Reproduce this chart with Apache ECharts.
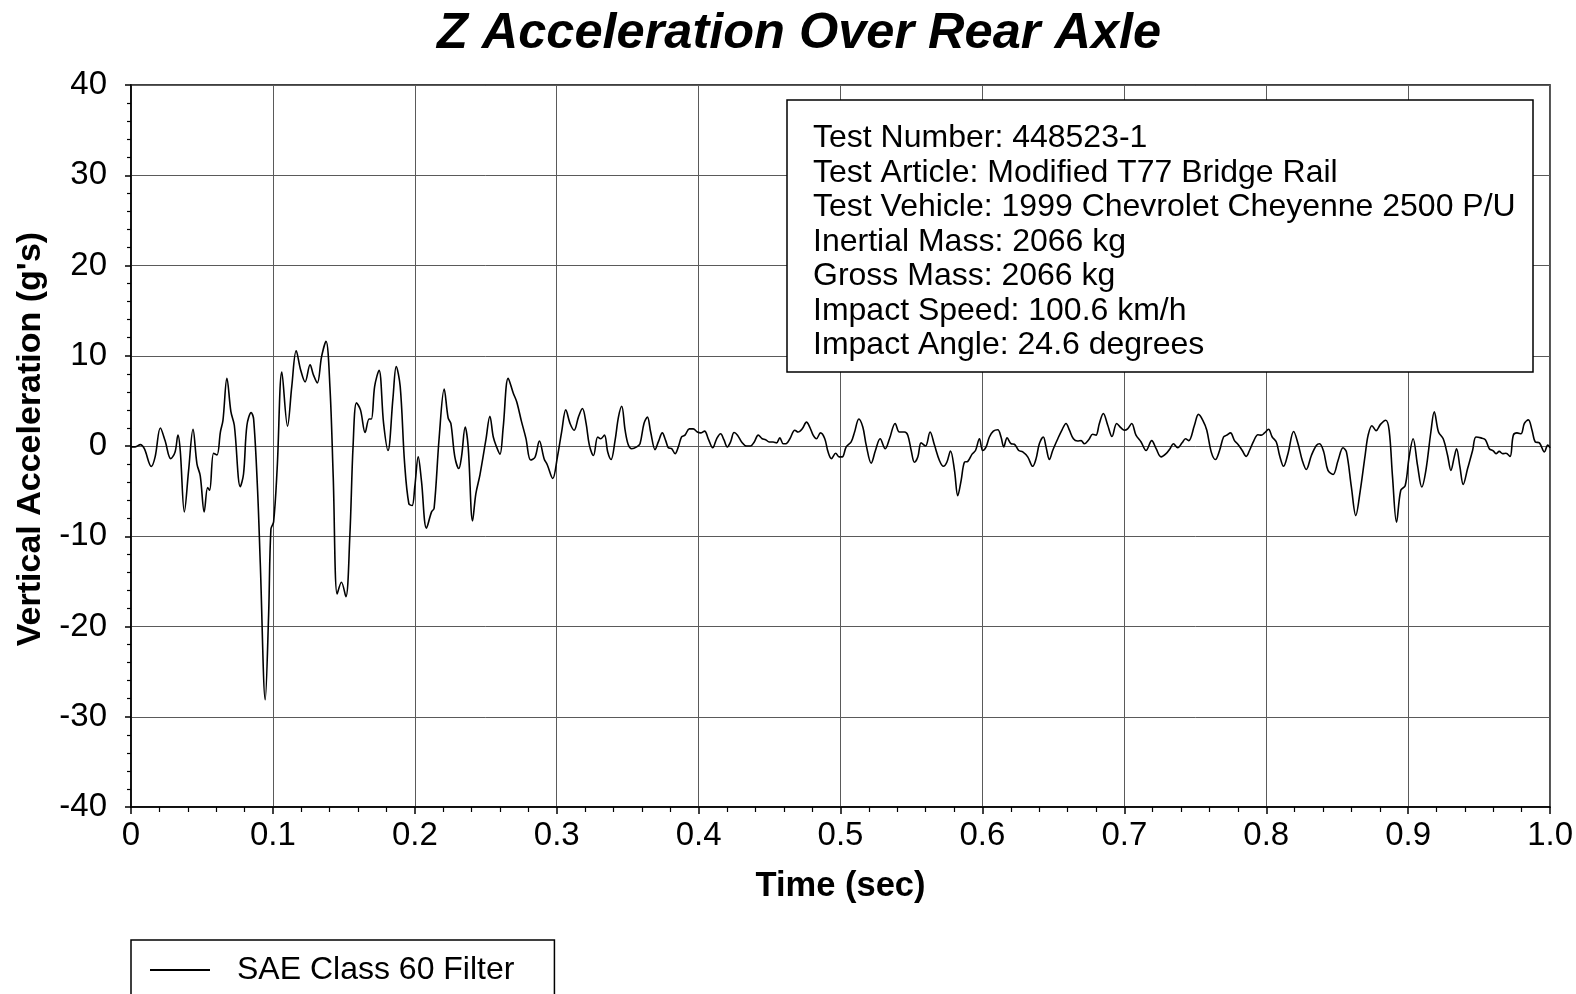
<!DOCTYPE html>
<html>
<head>
<meta charset="utf-8">
<script src="https://cdn.jsdelivr.net/npm/echarts@6/dist/echarts.min.js"></script>
<style>
html,body{margin:0;padding:0;background:#fff;}
#chart{width:1576px;height:994px;}
</style>
</head>
<body>
<div id="chart"></div>
<script>
const titleText = 'Z Acceleration Over Rear Axle';
const xAxisName = 'Time (sec)';
const yAxisName = "Vertical Acceleration (g's)";
const seriesName = 'SAE Class 60 Filter';
const infoLines = [
  'Test Number: 448523-1',
  'Test Article: Modified T77 Bridge Rail',
  'Test Vehicle: 1999 Chevrolet Cheyenne 2500 P/U',
  'Inertial Mass: 2066 kg',
  'Gross Mass: 2066 kg',
  'Impact Speed: 100.6 km/h',
  'Impact Angle: 24.6 degrees'
];

const time = [
0.000,0.003,0.0066,0.0094,0.0143,0.017,0.0207,0.024,0.028,0.031,0.0331,0.0347,0.0376,0.0406,0.0437,0.0465,0.0488,0.0516,0.054,0.0554,
0.0582,0.0606,0.063,0.0648,0.0676,0.0704,0.0728,0.077,0.0793,0.0817,0.0847,0.0864,0.0892,0.0911,0.0946,0.097,0.0986,0.1005,0.103,0.1063,
0.1103,0.1133,0.1164,0.1196,0.1227,0.1262,0.1285,0.1313,0.1343,0.1374,0.1402,0.1425,0.1453,0.1483,0.1514,0.1542,0.1565,0.1589,0.1617,0.165,
0.1678,0.1694,0.1717,0.1748,0.178,0.1811,0.1846,0.1869,0.1897,0.1928,0.1958,0.1981,0.2,0.2024,0.2047,0.2082,0.2118,0.2136,0.2172,0.2207,
0.2235,0.2254,0.2282,0.231,0.2329,0.2355,0.2376,0.2407,0.243,0.2459,0.2501,0.2529,0.2553,0.2576,0.26,0.2623,0.2658,0.2694,0.2718,0.2752,
0.2783,0.2816,0.2847,0.2878,0.2911,0.2934,0.2972,0.3005,0.3035,0.3064,0.3094,0.3123,0.3153,0.3181,0.3207,0.323,0.3259,0.3289,0.331,0.3336,
0.336,0.3383,0.3411,0.3435,0.3458,0.3482,0.3505,0.3528,0.3564,0.3587,0.3615,0.3639,0.3662,0.3693,0.3716,0.3744,0.3768,0.3787,0.381,0.3834,
0.3857,0.388,0.3904,0.3934,0.3962,0.3991,0.4014,0.4042,0.4068,0.4099,0.4127,0.4155,0.4178,0.4202,0.4225,0.425,0.4274,0.4303,0.4338,0.4366,
0.4392,0.442,0.4448,0.4472,0.4497,0.4525,0.4549,0.4572,0.4596,0.4615,0.4643,0.4678,0.4701,0.473,0.476,0.4783,0.4807,0.483,0.4859,0.4889,
0.4912,0.4936,0.4966,0.499,0.5012,0.504,0.5075,0.5099,0.5129,0.5157,0.5181,0.5216,0.5246,0.5279,0.5315,0.5345,0.5385,0.5415,0.5451,0.5474,
0.5498,0.5521,0.5545,0.5568,0.5599,0.5631,0.5662,0.5697,0.5725,0.5749,0.5775,0.5803,0.5826,0.585,0.5873,0.5897,0.5927,0.5951,0.5979,0.6002,
0.6026,0.6049,0.6077,0.6108,0.6131,0.615,0.6174,0.6202,0.6225,0.6256,0.6284,0.6319,0.6354,0.6378,0.6401,0.6429,0.6448,0.6472,0.6495,0.6531,
0.6561,0.6589,0.6613,0.6641,0.6671,0.6695,0.6718,0.6749,0.6777,0.68,0.6824,0.6852,0.6883,0.6913,0.6946,0.6977,0.7,0.7023,0.7052,0.7082,
0.7118,0.7153,0.7193,0.7224,0.7259,0.7294,0.7322,0.7346,0.7376,0.7407,0.7431,0.7454,0.7494,0.7522,0.7553,0.7581,0.7612,0.7642,0.7671,0.7699,
0.7722,0.7748,0.7776,0.78,0.7831,0.7859,0.7882,0.7913,0.7941,0.7965,0.7988,0.8016,0.8042,0.8071,0.8094,0.8122,0.8153,0.8193,0.8224,0.8254,
0.8282,0.8318,0.8353,0.8376,0.8405,0.8435,0.8471,0.8506,0.8541,0.8565,0.86,0.8631,0.8662,0.8697,0.8718,0.8745,0.8774,0.8805,0.8842,0.8866,
0.889,0.8918,0.8948,0.8979,0.9007,0.9035,0.9066,0.9096,0.9125,0.916,0.9184,0.9214,0.9247,0.9278,0.9301,0.9325,0.9341,0.9365,0.9388,0.9419,
0.9454,0.9478,0.9513,0.9544,0.9572,0.96,0.9619,0.9642,0.9666,0.9689,0.9718,0.9741,0.9767,0.9795,0.9819,0.9847,0.9873,0.9896,0.9925,0.996,
0.9984,1.0
];
const accel = [
-0.1,-0.1,0.15,-0.3,-2.26,-1.2,2.0,0.6,-1.4,-0.7,1.2,-0.5,-7.3,-2.7,1.85,-2.0,-3.3,-7.3,-4.6,-4.9,
-0.8,-1.0,1.55,2.85,7.5,3.8,2.3,-4.5,-3.1,2.3,3.7,3.0,-4.9,-13,-28.1,-18.6,-9.2,-8.4,-2.5,8.2,
2.2,6.6,10.55,8.4,7.1,9.0,7.9,7.0,9.9,11.6,6.5,-3.4,-16.4,-15.1,-16.7,-10,0,4.8,4.0,1.5,
3.0,3.0,6.6,8.4,2.5,-0.5,5.3,8.8,6.6,-1.9,-6.4,-6.6,-4.5,-1.2,-3.9,-9.1,-7.3,-6.9,1.0,6.3,
3.1,2.5,-1.2,-2.5,-1.2,2.1,-0.1,-8.3,-5.3,-3.2,0.7,3.3,1.0,-0.1,-0.9,2.1,7.5,5.85,4.9,2.7,
0.85,-1.55,-1.25,0.55,-1.4,-2.1,-3.6,-1.2,1.6,4.0,2.5,1.75,3.2,4.15,2.5,0.1,-1.05,1.0,0.8,1.2,
-0.7,-1.5,0.6,3.2,4.4,1.75,0.1,-0.3,-0.1,0.25,2.5,3.2,1.55,-0.4,0.45,1.45,0.6,-0.2,-0.3,-0.85,
-0.1,1.0,1.2,1.9,1.9,1.55,1.45,1.65,0.8,-0.2,0.8,1.35,0.7,-0.1,0.45,1.5,1.2,0.45,0,0,
0.45,1.2,0.8,0.7,0.45,0.45,0.35,0.9,0.25,0.25,0.8,1.75,1.55,1.9,2.65,2.1,1.2,0.8,1.45,0.8,
-0.65,-1.4,-0.8,-1.2,-1.2,-0.1,0.45,1.55,3.0,2.1,0.1,-1.9,-0.5,0.8,-0.3,0.8,2.5,1.55,1.55,1.2,
-0.5,-1.8,-1.2,0.35,0,1.55,0.1,-1.6,-2.25,-1.8,-0.55,-2.7,-5.5,-3.8,-1.8,-1.7,-0.9,-0.5,0.8,-0.5,
-0.1,1.0,1.65,1.8,1.0,-0.1,0.9,0.25,0.2,-0.5,-0.65,-1.2,-2.25,-1.4,0.25,1.0,-0.1,-1.5,-0.5,0.8,
1.8,2.5,1.75,0.8,0.55,0.6,0.25,0.7,1.3,1.2,2.5,3.6,2.3,1.05,2.5,2.0,1.75,1.9,2.5,1.2,
0.45,-0.5,0.6,-0.3,-1.2,-0.85,-0.3,0.25,-0.2,0.35,0.8,0.6,2.3,3.5,2.85,1.75,-0.65,-1.5,-0.5,1.0,
1.2,1.45,0.6,0.2,-0.5,-1.15,-0.5,0.6,1.25,1.2,1.45,1.85,1.0,0.45,-1.05,-2.25,-0.85,1.6,0.25,-1.6,
-2.6,-1.05,0.05,0.25,-0.65,-2.7,-3.15,-1.6,-0.2,-0.65,-4.55,-7.7,-5.0,-1.0,1.2,2.25,1.7,2.4,2.85,1.75,
-3.45,-8.45,-4.9,-4.4,-1.2,0.8,-2.15,-4.55,-2.7,1.55,3.8,1.55,0.8,-1.05,-2.7,-1.2,-0.3,-2.35,-4.25,-2.5,
-0.5,1.0,0.9,0.7,-0.3,-0.55,-0.85,-0.6,-0.85,-0.8,-1.15,1.2,1.45,1.35,2.5,2.9,1.75,0.45,0.35,-0.65,
0.1,-0.2
];

const xTicks = [0, 0.1, 0.2, 0.3, 0.4, 0.5, 0.6, 0.7, 0.8, 0.9, 1.0];
const yTicks = [-40, -30, -20, -10, 0, 10, 20, 30, 40];

const FONT = '"Liberation Sans", Arial, sans-serif';
const data = time.map((t, i) => [t, accel[i]]);

const chart = echarts.init(document.getElementById('chart'), null, {renderer: 'canvas'});
chart.setOption({
  animation: false,
  backgroundColor: '#ffffff',
  title: {
    text: titleText,
    left: 794,
    textAlign: 'center',
    top: 4,
    textStyle: {fontFamily: FONT, fontSize: 50.5, fontWeight: 'bold', fontStyle: 'italic', color: '#000'}
  },
  grid: {
    left: 131, right: 25, top: 85, bottom: 187,
    show: true, borderColor: '#000', borderWidth: 1.5, backgroundColor: 'transparent'
  },
  legend: {
    data: [{name: seriesName, icon: 'rect'}],
    left: 131, top: 940,
    orient: 'horizontal',
    padding: [14, 40, 40, 19],
    borderColor: '#000', borderWidth: 1.5,
    itemWidth: 60, itemHeight: 2,
    itemStyle: {color: '#000'},
    textStyle: {fontFamily: FONT, fontSize: 32, color: '#000', padding: [0, 0, 0, 22]}
  },
  xAxis: {
    type: 'value',
    min: xTicks[0], max: xTicks[xTicks.length - 1], interval: 0.1,
    name: xAxisName, nameLocation: 'middle', nameGap: 62,
    nameTextStyle: {fontFamily: FONT, fontSize: 34.5, fontWeight: 'bold', color: '#000'},
    axisLine: {onZero: false, lineStyle: {color: '#000', width: 1.5}},
    axisTick: {show: true, length: 7, lineStyle: {color: '#000', width: 1.5}},
    minorTick: {show: true, splitNumber: 5, length: 5, lineStyle: {color: '#000', width: 1.2}},
    axisLabel: {
      fontFamily: FONT, fontSize: 33, color: '#000', margin: 12,
      formatter: v => (v === 0 ? '0' : v.toFixed(1))
    },
    splitLine: {show: true, lineStyle: {color: '#5a5a5a', width: 1}}
  },
  yAxis: {
    type: 'value',
    min: yTicks[0], max: yTicks[yTicks.length - 1], interval: 10,
    name: yAxisName, nameLocation: 'middle', nameGap: 83,
    nameTextStyle: {fontFamily: FONT, fontSize: 34, fontWeight: 'bold', color: '#000', padding: [0, 0, 0, 14]},
    axisLine: {show: true, lineStyle: {color: '#000', width: 1.5}},
    axisTick: {show: true, length: 6, lineStyle: {color: '#000', width: 1.5}},
    minorTick: {show: true, splitNumber: 5, length: 4, lineStyle: {color: '#000', width: 1.2}},
    axisLabel: {fontFamily: FONT, fontSize: 33, color: '#000', margin: 24},
    splitLine: {show: true, lineStyle: {color: '#5a5a5a', width: 1}}
  },
  series: [{
    name: seriesName,
    type: 'line',
    data: data,
    symbol: 'none',
    smooth: 0.35,
    lineStyle: {color: '#000', width: 1.6},
    itemStyle: {color: '#000'},
    z: 3
  }],
  graphic: [{
    type: 'rect',
    z: 100,
    shape: {x: 787, y: 100, width: 746, height: 272},
    style: {fill: '#ffffff', stroke: '#000', lineWidth: 1.5}
  }, {
    type: 'text',
    z: 101,
    x: 813, y: 121,
    style: {
      text: infoLines.join('\n'),
      font: '32px ' + FONT,
      fill: '#000',
      lineHeight: 34.5,
      textAlign: 'left',
      textVerticalAlign: 'top'
    }
  }]
});
</script>
</body>
</html>
